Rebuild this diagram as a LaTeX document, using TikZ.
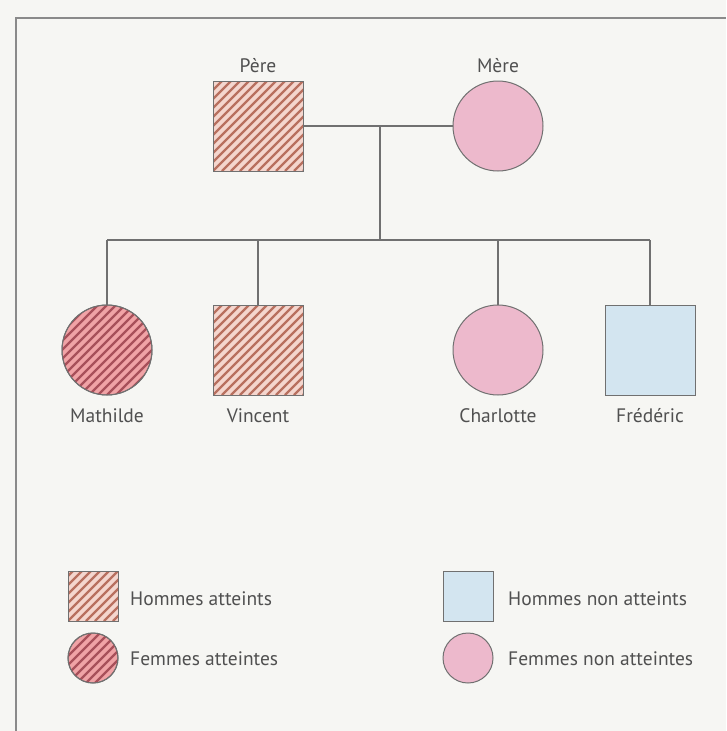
\documentclass[tikz,border=0pt]{standalone}
\usepackage{fontspec}
\setmainfont{PT Sans}
\definecolor{bg}{HTML}{F6F6F3}
\definecolor{frame}{HTML}{8A8A8A}
\definecolor{lin}{HTML}{707070}
\definecolor{txt}{HTML}{505050}
\definecolor{pinkf}{HTML}{EDB9CC}
\definecolor{bluef}{HTML}{D3E5F0}
\definecolor{peach}{HTML}{F4D6CE}
\definecolor{stripeM}{HTML}{B8705F}
\definecolor{redf}{HTML}{F0A3A6}
\definecolor{stripeF}{HTML}{A8505A}
\tikzset{
  lbl/.style={text=txt,font=\fontsize{19.5}{22}\selectfont,inner sep=0pt},
  conn/.style={draw=lin,line width=1.4pt},
  sq/.style={draw=lin,line width=1pt,minimum width=#1,minimum height=#1,inner sep=0pt,rectangle},
  ci/.style={draw=lin,line width=1pt,minimum size=#1,inner sep=0pt,circle},
  stripeline/.style={line width=2.2pt},
}
\begin{document}
\begin{tikzpicture}[x=1pt,y=-1pt]
\useasboundingbox (0,0) rectangle (726,731);
\fill[bg] (0,0) rectangle (726,731);
\draw[frame,line width=2pt] (16,731) -- (16,18) -- (726,18);

% parents
\node[sq=90pt,fill=peach] (pere) at (258,126) {};
\node[ci=90pt,fill=pinkf] (mere) at (498,126) {};
\begin{scope}
  \clip (213,81) rectangle (303,171);
  \foreach \k in {-126,-117,...,126} \draw[stripeM,stripeline] (213+\k,171) -- (303+\k,81);
\end{scope}
\node[sq=90pt] at (pere) {};
\node[lbl,anchor=base] (lpere) at (258,72) {Père};
\node[lbl,anchor=base] (lmere) at (498,72) {Mère};

% connectors
\coordinate (mid) at (380,126);
\coordinate (sib) at (380,240);
\coordinate (sL) at (107,240);
\coordinate (sR) at (650,240);
\draw[conn] (pere.east) -- (mere.west);
\draw[conn] (mid) -- (sib);
\draw[conn] (sL) -- (sR);

% children
\node[ci=90pt,fill=redf] (math) at (107,350) {};
\begin{scope}
  \clip (107,350) circle (45);
  \foreach \k in {-126,-117,...,126} \draw[stripeF,stripeline] (62+\k,395) -- (152+\k,305);
\end{scope}
\node[ci=90pt] at (math) {};
\node[sq=90pt,fill=peach] (vinc) at (258,350) {};
\begin{scope}
  \clip (213,305) rectangle (303,395);
  \foreach \k in {-126,-117,...,126} \draw[stripeM,stripeline] (213+\k,395) -- (303+\k,305);
\end{scope}
\node[sq=90pt] at (vinc) {};
\node[ci=90pt,fill=pinkf] (charl) at (498,350) {};
\node[sq=90pt,fill=bluef] (fred) at (650,350) {};

\draw[conn] (sL) -- (math.north);
\draw[conn] (258,240) -- (vinc.north);
\draw[conn] (498,240) -- (charl.north);
\draw[conn] (sR) -- (fred.north);

\node[lbl,anchor=base] (lmath) at (107,422) {Mathilde};
\node[lbl,anchor=base] (lvinc) at (258,422) {Vincent};
\node[lbl,anchor=base] (lcharl) at (498,422) {Charlotte};
\node[lbl,anchor=base] (lfred) at (650,422) {Frédéric};

% legend
\node[sq=50pt,fill=peach] (lg1) at (93,596) {};
\begin{scope}
  \clip (68,571) rectangle (118,621);
  \foreach \k in {-72,-63,...,72} \draw[stripeM,stripeline] (68+\k,621) -- (118+\k,571);
\end{scope}
\node[sq=50pt] at (lg1) {};
\node[lbl,anchor=base west] (t1) at (130,605) {Hommes atteints};

\node[ci=50pt,fill=redf] (lg2) at (93,658) {};
\begin{scope}
  \clip (93,658) circle (25);
  \foreach \k in {-72,-63,...,72} \draw[stripeF,stripeline] (68+\k,683) -- (118+\k,633);
\end{scope}
\node[ci=50pt] at (lg2) {};
\node[lbl,anchor=base west] (t2) at (130,665) {Femmes atteintes};

\node[sq=50pt,fill=bluef] (lg3) at (468,596) {};
\node[lbl,anchor=base west] (t3) at (508,605) {Hommes non atteints};
\node[ci=50pt,fill=pinkf] (lg4) at (468,658) {};
\node[lbl,anchor=base west] (t4) at (508,665) {Femmes non atteintes};
\end{tikzpicture}
\end{document}
